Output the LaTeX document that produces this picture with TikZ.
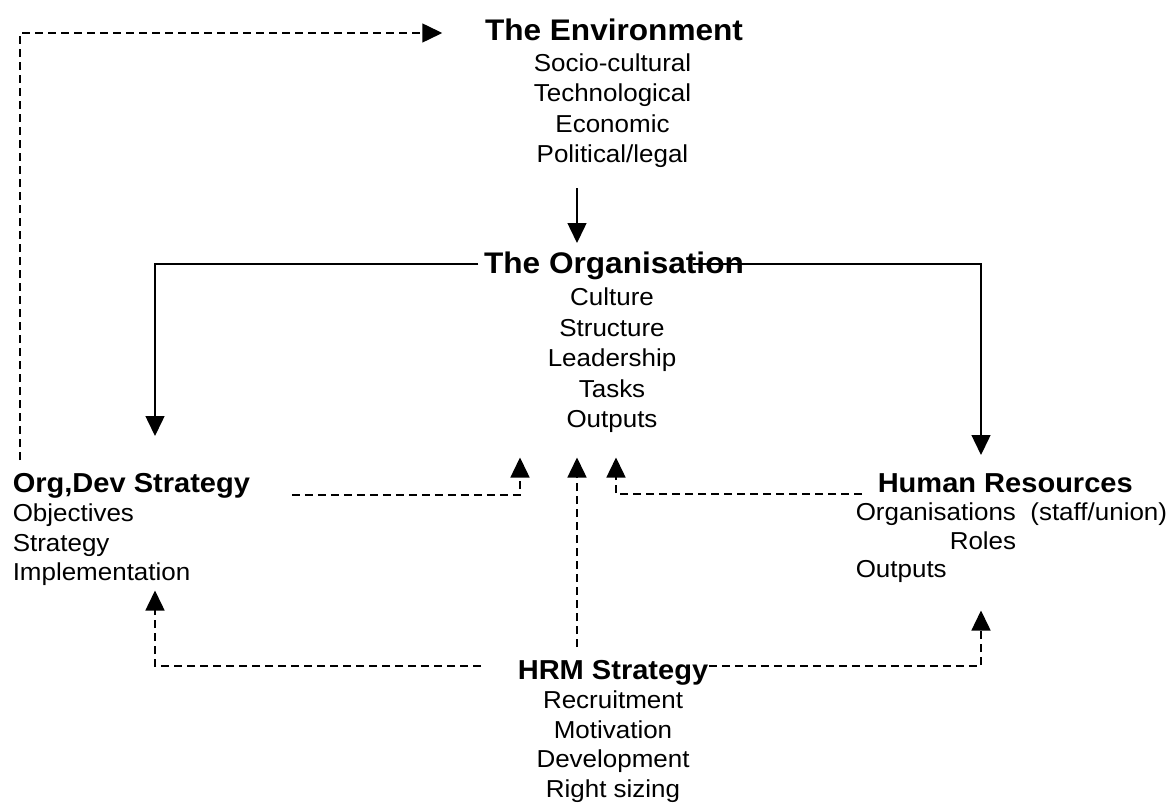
\documentclass[tikz,border=0pt]{standalone}
\usepackage{fontspec}
\setmainfont[FakeStretch=1.06]{Liberation Sans}
\usetikzlibrary{arrows.meta}
\tikzset{
every picture/.style={line width=1.5pt},
link/.style={-{Triangle[length=20pt,width=19pt]}},
dlink/.style={link, dash pattern=on 8pt off 5pt},
mainhead/.style={font=\fontsize{29.8}{34}\selectfont\bfseries, inner sep=0pt},
sidehead/.style={font=\fontsize{27.4}{31}\selectfont\bfseries, inner sep=0pt},
entry/.style={font=\fontsize{24.5}{28}\selectfont, inner sep=0pt}
}

\begin{document}
\begin{tikzpicture}[x=1pt,y=-1pt]
  \useasboundingbox (0,0) rectangle (1174,805);

  \node[mainhead, anchor=base] (env) at (614,41) {The Environment};
  \foreach \txt [count=\i] in {Socio-cultural, Technological, Economic, Political/legal}
    \node[entry, anchor=base] (env-\i) at (612.5,41+30.5*\i) {\txt};

  \node[mainhead, anchor=base] (org) at (614,273) {The Organisation};
  \foreach \txt [count=\i] in {Culture, Structure, Leadership, Tasks, Outputs}
    \node[entry, anchor=base] (org-\i) at (612,275+30.5*\i) {\txt};

  \node[sidehead, anchor=base west] (ods) at (12,492) {Org,Dev Strategy};
  \foreach \txt [count=\i] in {Objectives, Strategy, Implementation}
    \node[entry, anchor=base west] (ods-\i) at (12,492+29.5*\i) {\txt};

  \node[sidehead, anchor=base west] (hr) at (877,492) {Human Resources};
  \foreach \dx/\txt [count=\i] in {0/{Organisations\ \ (staff/union)}, 94/Roles, 0/Outputs}
    \node[entry, anchor=base west] (hr-\i) at (855+\dx,492+28.5*\i) {\txt};

  \node[sidehead, anchor=base] (hrm) at (613,679) {HRM Strategy};
  \foreach \txt [count=\i] in {Recruitment, Motivation, Development, Right sizing}
    \node[entry, anchor=base] (hrm-\i) at (613,679+29.5*\i) {\txt};

  \draw[link] ([xshift=-35.5pt,yshift=-25pt]env-4.base) -- ([xshift=-37pt,yshift=30pt]org.base);
  \draw[link] ([xshift=-5pt,yshift=9pt]org.base west) -| ([xshift=143pt,yshift=56pt]ods.base west);
  \draw[link] ([xshift=79pt,yshift=9pt]org.base) -| ([xshift=104pt,yshift=37pt]hr.base west);

  \draw[dlink] ([xshift=8pt,yshift=32pt]ods.base west) |- ([xshift=-42pt,yshift=8pt]env.base west);
  \draw[dlink] ([xshift=41pt,yshift=-3pt]ods.base east) -| ([xshift=-92pt,yshift=-30pt]org-5.base);
  \draw[dlink] ([xshift=-15pt,yshift=-2pt]hr.base west) -| ([xshift=4pt,yshift=-30pt]org-5.base);
  \draw[dlink] ([xshift=-36pt,yshift=32pt]hrm.base) -- ([xshift=-35pt,yshift=-30pt]org-5.base);
  \draw[dlink] ([xshift=-36pt,yshift=13pt]hrm.base west) -| ([xshift=143pt,yshift=-10pt]ods-3.base west);
  \draw[dlink] ([yshift=13pt]hrm.base east) -| ([xshift=126pt,yshift=-33pt]hr-3.base west);
\end{tikzpicture}
\end{document}
